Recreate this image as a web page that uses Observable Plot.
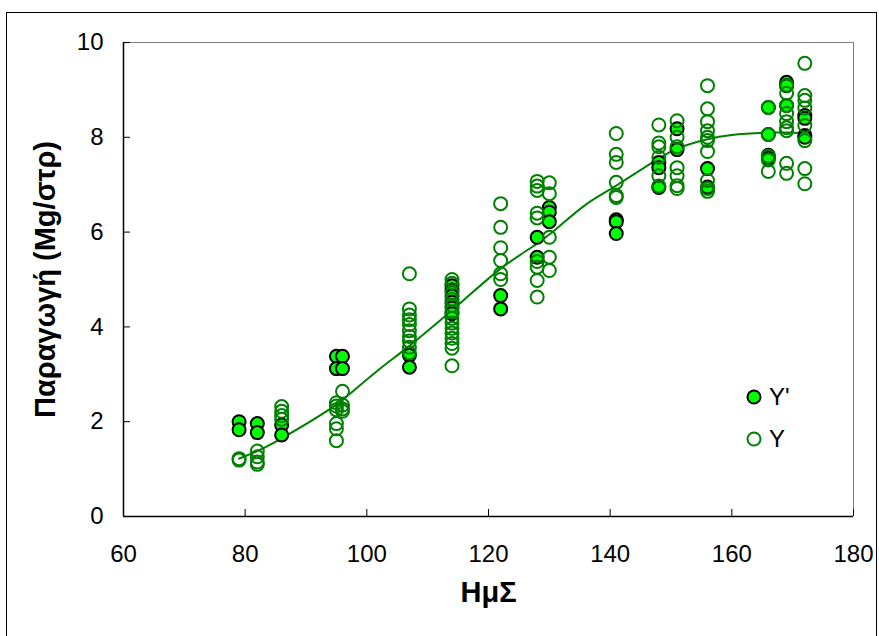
<!DOCTYPE html>
<html><head><meta charset="utf-8">
<script src="https://cdn.jsdelivr.net/npm/d3@7"></script>
<script src="https://cdn.jsdelivr.net/npm/@observablehq/plot@0.6"></script>
<style>
html,body{margin:0;padding:0;background:#fff;}
#wrap{position:relative;width:879px;height:636px;overflow:hidden;font-family:"Liberation Sans",Arial,sans-serif;}
#border{position:absolute;left:6px;top:12px;width:871px;height:640px;border:1px solid #000;box-sizing:border-box;pointer-events:none;}
.leg{position:absolute;display:flex;align-items:center;font-size:24px;color:#000;line-height:1;}
.leg svg{margin-right:6px;}
</style></head>
<body>
<div id="wrap"><div id="chart"></div><div id="border"></div>
<div class="leg" id="leg1" style="left:745px;top:385px;"></div>
<div class="leg" id="leg2" style="left:745px;top:427px;"></div>
</div>
<script>
// ---- data ----
const hms = [79, 82, 86, 95, 96, 107, 114, 122, 128, 130, 141, 148, 151, 156, 166, 169, 172];
const yPrime = [
  [2.00, 1.83],
  [1.96, 1.77],
  [1.93, 1.72],
  [3.38, 3.12],
  [3.38, 3.12],
  [3.40, 3.15],
  [4.87, 4.78, 4.65, 4.52, 4.40, 4.28],
  [4.66, 4.38],
  [5.89, 5.47],
  [6.52, 6.42, 6.22],
  [6.26, 6.22, 5.97],
  [7.47, 7.36, 6.94],
  [8.18, 7.74],
  [7.34, 6.95],
  [8.63, 8.06, 7.62, 7.56],
  [9.16, 9.09, 8.67],
  [8.46, 8.40, 8.04, 8.00]
];
const yObs = [
  [1.22, 1.19],
  [1.38, 1.26, 1.15, 1.10],
  [2.32, 2.22, 2.13, 2.05],
  [2.40, 2.33, 2.25, 1.96, 1.85, 1.60],
  [2.64, 2.35, 2.27, 2.22],
  [5.12, 4.38, 4.25, 4.15, 4.05, 3.92, 3.80, 3.70, 3.57, 3.45],
  [5.00, 4.92, 4.72, 4.58, 4.45, 4.32, 4.18, 4.08, 3.97, 3.87, 3.76, 3.65, 3.55, 3.18],
  [6.60, 6.10, 5.67, 5.40, 5.12, 5.00],
  [7.07, 6.97, 6.88, 6.40, 6.30, 5.38, 5.26, 4.98, 4.63],
  [7.04, 6.81, 5.89, 5.47, 5.19],
  [8.08, 7.64, 7.47, 7.05, 6.77, 6.73],
  [8.26, 7.88, 7.80, 7.58, 7.19, 6.97],
  [8.35, 8.00, 7.80, 7.36, 7.19, 6.98, 6.92],
  [9.09, 8.60, 8.33, 8.14, 8.00, 7.93, 7.70, 7.09, 6.92, 6.86],
  [8.63, 8.06, 7.60, 7.52, 7.28],
  [9.10, 8.93, 8.67, 8.50, 8.33, 8.20, 8.14, 7.45, 7.24],
  [9.56, 8.88, 8.78, 8.62, 8.25, 7.93, 7.34, 7.02]
];
const fitX = [79, 82, 86, 95, 96, 102, 107, 114, 122, 128, 130, 136, 141, 148, 151, 156, 160, 166, 169, 172];
const fitY = [1.22, 1.38, 1.65, 2.36, 2.46, 3.10, 3.60, 4.35, 5.23, 5.76, 5.95, 6.58, 6.98, 7.55, 7.76, 7.96, 8.05, 8.10, 8.10, 8.08];
const xTicks = [60, 80, 100, 120, 140, 160, 180];
const yTicks = [0, 2, 4, 6, 8, 10];
const xTitle = "ΗμΣ";
const yTitle = "Παραγωγή (Mg/στρ)";
const legendLabels = ["Y'", "Y"];

// ---- build tables ----
const primeData = hms.flatMap((h, i) => yPrime[i].map(v => ({h, v})));
const obsData = hms.flatMap((h, i) => yObs[i].map(v => ({h, v})));
const fitData = fitX.map((h, i) => ({h, v: fitY[i]}));

const chart = Plot.plot({
  width: 879, height: 636,
  marginLeft: 123, marginRight: 26, marginTop: 42, marginBottom: 120,
  x: {domain: [60, 180]},
  y: {domain: [0, 10]},
  style: {fontFamily: "'Liberation Sans', Arial, sans-serif", fontSize: "24px", color: "#000", background: "#fff"},
  marks: [
    Plot.ruleY([10], {stroke: "#808080", strokeWidth: 1}),
    Plot.ruleX([180], {stroke: "#808080", strokeWidth: 1}),
    Plot.axisX({ticks: xTicks, tickSize: 0, tickPadding: 28, label: null, fontSize: 24}),
    Plot.axisX({ticks: xTicks, tickSize: 7, dy: -7, fill: "none", label: null}),
    Plot.axisY({ticks: yTicks, tickSize: 0, tickPadding: 20, label: null, fontSize: 24}),
    Plot.axisY({ticks: yTicks, tickSize: 7, dx: 7, fill: "none", label: null}),
    Plot.ruleY([0], {stroke: "#000", strokeWidth: 1.5}),
    Plot.ruleX([60], {stroke: "#000", strokeWidth: 1.5}),
    Plot.line(fitData, {x: "h", y: "v", stroke: "#008000", strokeWidth: 2, curve: "catmull-rom"}),
    Plot.dot(primeData, {x: "h", y: "v", r: 6.5, fill: "#00ff00", stroke: "#000", strokeWidth: 2}),
    Plot.dot(obsData, {x: "h", y: "v", r: 6.5, fill: "none", stroke: "#008000", strokeWidth: 2}),
    Plot.text([yTitle], {text: d => d, frameAnchor: "left", textAnchor: "middle", rotate: -90, dx: -78, fontWeight: "bold", fontSize: 29}),
    Plot.text([xTitle], {text: d => d, frameAnchor: "bottom", textAnchor: "middle", dy: 85, fontWeight: "bold", fontSize: 29})
  ]
});
document.getElementById("chart").appendChild(chart);

document.getElementById("leg1").innerHTML =
  `<svg width="18" height="18"><circle cx="9" cy="9" r="6.5" fill="#00ff00" stroke="#000" stroke-width="2"/></svg><span>${legendLabels[0]}</span>`;
document.getElementById("leg2").innerHTML =
  `<svg width="18" height="18"><circle cx="9" cy="9" r="6.5" fill="none" stroke="#008000" stroke-width="2"/></svg><span>${legendLabels[1]}</span>`;
</script>
</body></html>
